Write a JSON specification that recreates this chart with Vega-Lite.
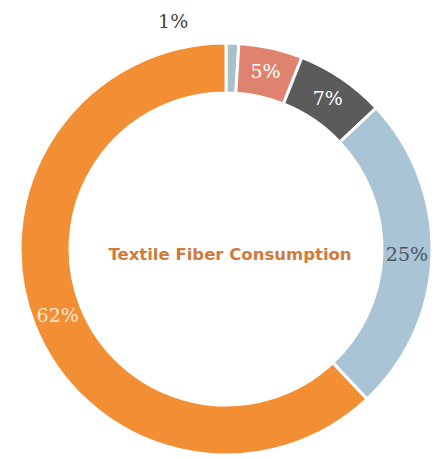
{
  "$schema": "https://vega.github.io/schema/vega-lite/v6.json",
  "autosize": "none",
  "width": 418,
  "height": 420,
  "padding": {"left": 17, "top": 39, "right": 0, "bottom": 0},
  "background": "white",
  "data": {
    "values": [
      {"category": "Wool", "share": 0.01, "rank": 1},
      {"category": "Other plant fibers", "share": 0.05, "rank": 2},
      {"category": "Cellulosic fibers", "share": 0.07, "rank": 3},
      {"category": "Cotton", "share": 0.25, "rank": 4},
      {"category": "Synthetic fibers", "share": 0.62, "rank": 5}
    ]
  },
  "encoding": {
    "theta": {"field": "share", "type": "quantitative", "stack": true},
    "order": {"field": "rank", "type": "quantitative"}
  },
  "layer": [
    {
      "mark": {"type": "arc", "outerRadius": 206, "innerRadius": 156, "stroke": "white", "strokeWidth": 3},
      "encoding": {
        "color": {
          "field": "category",
          "type": "nominal",
          "legend": null,
          "scale": {
            "domain": ["Wool", "Other plant fibers", "Cellulosic fibers", "Cotton", "Synthetic fibers"],
            "range": ["#a9c1c8", "#e0836e", "#5b5b5b", "#a9c4d5", "#f28e33"]
          }
        }
      }
    },
    {
      "mark": {"type": "text", "radius": 181, "font": "DejaVu Serif", "fontSize": 19, "baseline": "middle", "align": "center"},
      "encoding": {
        "text": {"condition": {"test": "datum.share >= 0.02", "field": "share", "format": ".0%"}, "value": ""},
        "color": {
          "field": "category",
          "type": "nominal",
          "legend": null,
          "scale": {
            "domain": ["Wool", "Other plant fibers", "Cellulosic fibers", "Cotton", "Synthetic fibers"],
            "range": ["#444444", "#ffffff", "#ffffff", "#4b5761", "#fbe8cf"]
          }
        }
      }
    },
    {
      "mark": {"type": "text", "radius": 227, "dx": -60, "font": "DejaVu Serif", "fontSize": 19, "baseline": "middle", "align": "center", "color": "#444444"},
      "encoding": {
        "text": {"condition": {"test": "datum.share < 0.02", "field": "share", "format": ".0%"}, "value": ""}
      }
    },
    {
      "data": {"values": [{"title": "Textile Fiber Consumption"}]},
      "mark": {"type": "text", "radius": 0, "dx": 4, "dy": 6, "font": "DejaVu Sans", "fontWeight": "bold", "fontSize": 16.5, "color": "#d27a3c", "baseline": "middle", "align": "center"},
      "encoding": {
        "theta": {"value": 0},
        "order": null,
        "text": {"field": "title", "type": "nominal"}
      }
    }
  ],
  "resolve": {"scale": {"color": "independent"}}
}
